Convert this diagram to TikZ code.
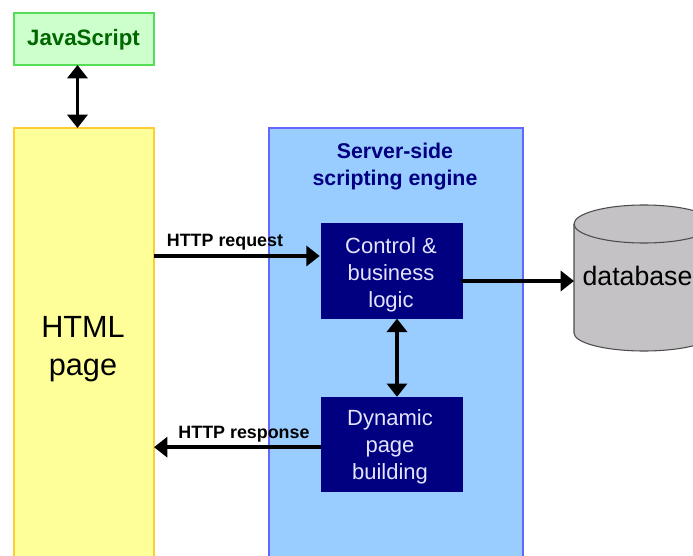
\documentclass[tikz,border=0pt]{standalone}
\usepackage{fontspec}
\setmainfont{Liberation Sans}
\usetikzlibrary{shapes, arrows.meta, positioning, calc}
\definecolor{jsfill}{HTML}{CCFFCC}
\definecolor{jsline}{HTML}{55DD55}
\definecolor{jstext}{HTML}{006600}
\definecolor{pagefill}{HTML}{FFFF99}
\definecolor{pageline}{HTML}{FFCC33}
\definecolor{enginefill}{HTML}{99CCFF}
\definecolor{engineline}{HTML}{6666FF}
\definecolor{boxfill}{HTML}{000080}
\definecolor{boxtext}{HTML}{E4E4FF}
\definecolor{dbfill}{HTML}{C4C2C4}
\tikzset{
	panel/.style={draw, line width=1pt, inner sep=0pt, outer sep=0pt, anchor=north west},
	logicbox/.style={fill=boxfill, inner sep=0pt, outer sep=0pt, minimum width=106.5pt, minimum height=71.5pt},
	logictext/.style={text=boxtext, align=center, font=\fontsize{16.5}{20.25}\selectfont},
	link/.style={line width=2.8pt, -{Triangle[length=10pt,width=15pt]}},
	biglink/.style={line width=2.8pt, {Triangle[length=10pt,width=15pt]}-{Triangle[length=10pt,width=15pt]}},
	httplabel/.style={font=\fontsize{13.4}{16}\selectfont\bfseries, inner sep=0pt},
	dbshape/.style={draw=black!70, line width=0.8pt, fill=dbfill}
}
\begin{document}
\begin{tikzpicture}[x=0.75pt, y=-0.75pt]
	\path[use as bounding box, clip] (0,0) rectangle (693,556);
	\node[panel, fill=jsfill, draw=jsline, minimum width=105pt, minimum height=39pt] (js) at (14,13) {};
	\node[text=jstext, font=\fontsize{16.7}{20}\selectfont\bfseries] (jslabel) at (83.5,40) {JavaScript};
	\node[panel, fill=pagefill, draw=pageline, minimum width=105pt, minimum height=375pt] (page) at (14,128) {};
	\node[align=center, font=\fontsize{23}{28.5}\selectfont] (pagelabel) at (83,349) {HTML\\page};
	\node[panel, fill=enginefill, draw=engineline, minimum width=190.5pt, minimum height=375pt] (engine) at (269,128) {};
	\node[align=center, text=boxfill, font=\fontsize{16}{20.25}\selectfont\bfseries] (enginelabel) at (395,167) {Server-side\\scripting engine};
	\node[logicbox] (control) at (392,271) {};
	\node[logictext] (controllabel) at (391,275) {Control \&\\business\\logic};
	\node[logicbox] (dynamic) at (392,444.5) {};
	\node[logictext] (dynamiclabel) at (390,447) {Dynamic\\page\\building};
	\coordinate (dbtop) at (574,224);
	\coordinate (dbwest) at (574,333);
	\draw[dbshape] (dbtop) -- (dbwest) arc[start angle=180, end angle=360, x radius=52.5pt, y radius=13.5pt] -- ++(0,-109) arc[start angle=0, end angle=180, x radius=52.5pt, y radius=14.25pt] -- cycle;
	\draw[dbshape, fill=none] (dbtop) arc[start angle=180, end angle=360, x radius=52.5pt, y radius=14.25pt];
	\node[font=\fontsize{20}{24}\selectfont, inner sep=0pt] (dblabel) at (637.5,276) {database};
	\coordinate (jsend) at ([xshift=-4.9pt]js.south);
	\coordinate (reqend) at ([yshift=11.25pt,xshift=-1pt]control.west);
	\coordinate (dbstart) at ([yshift=-7.5pt,xshift=-1.5pt]control.east);
	\coordinate (respstart) at ([yshift=-2pt]dynamic.west);
	\draw[biglink] (jsend) -- (jsend |- page.north);
	\draw[biglink] ([xshift=3.75pt]control.south) -- ([xshift=3.75pt]dynamic.north);
	\draw[link] (page.east |- reqend) -- (reqend);
	\draw[link] (dbstart) -- (dbwest |- dbstart);
	\draw[link] (respstart) -- (page.east |- respstart);
	\node[httplabel] (request) at (225,242) {HTTP request};
	\node[httplabel] (response) at (244,434) {HTTP response};
\end{tikzpicture}
\end{document}
